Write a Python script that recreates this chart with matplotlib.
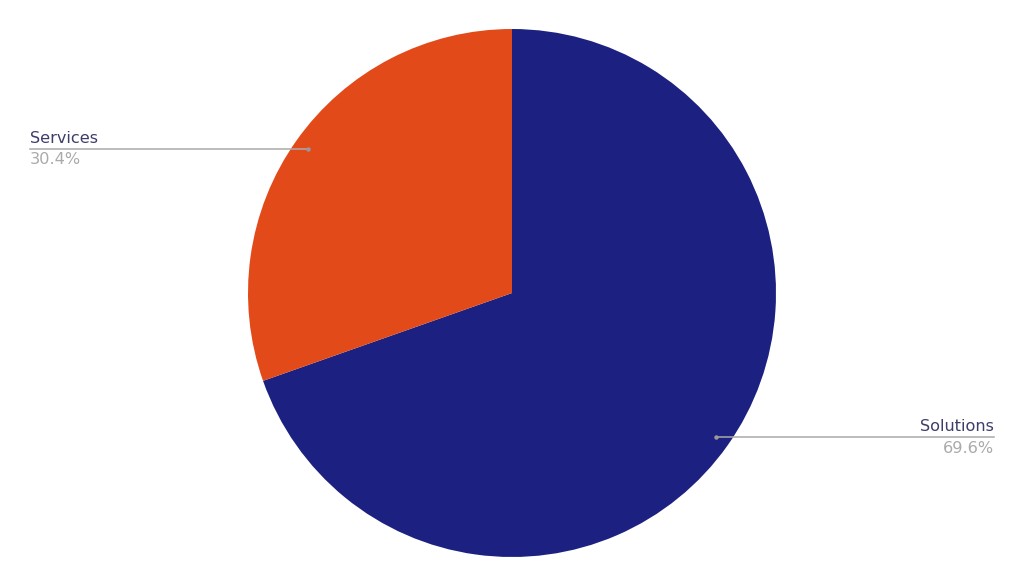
import numpy as np
import matplotlib
matplotlib.use("Agg")
import matplotlib.pyplot as plt

labels = ["Solutions", "Services"]
shares = [69.6, 30.4]
colors = ["#1c2181", "#e34a19"]

W, H = 1024, 586
fig = plt.figure(figsize=(W / 100, H / 100), dpi=100)
ax = fig.add_axes([0, 0, 1, 1])
ax.set_xlim(0, W)
ax.set_ylim(0, H)
ax.set_aspect("equal")
ax.axis("off")

cx, cy, r = 512, 293, 264
wedges, _ = ax.pie(shares, colors=colors, startangle=90, counterclock=False,
                   center=(cx, cy), radius=r,
                   wedgeprops=dict(linewidth=0))
ax.set_xlim(0, W)
ax.set_ylim(0, H)

for w, lab, val in zip(wedges, labels, shares):
    mid = np.deg2rad((w.theta1 + w.theta2) / 2)
    px = cx + 0.947 * r * np.cos(mid)
    py = cy + 0.947 * r * np.sin(mid)
    if np.cos(mid) < 0:
        ex, ha = 30, "left"
    else:
        ex, ha = W - 30, "right"
    ax.plot([px, ex], [py, py], color="#aaaaaa", lw=1.1, zorder=3)
    ax.plot([px], [py], "o", color="#999999", ms=2.2, zorder=4)
    ax.text(ex, py + 3, lab, ha=ha, va="bottom", fontsize=11.6, color="#3d3d6b")
    ax.text(ex, py - 3.5, f"{val}%", ha=ha, va="top", fontsize=11.6, color="#aaaaaa")

fig.savefig("out.png", dpi=100, facecolor="white")
